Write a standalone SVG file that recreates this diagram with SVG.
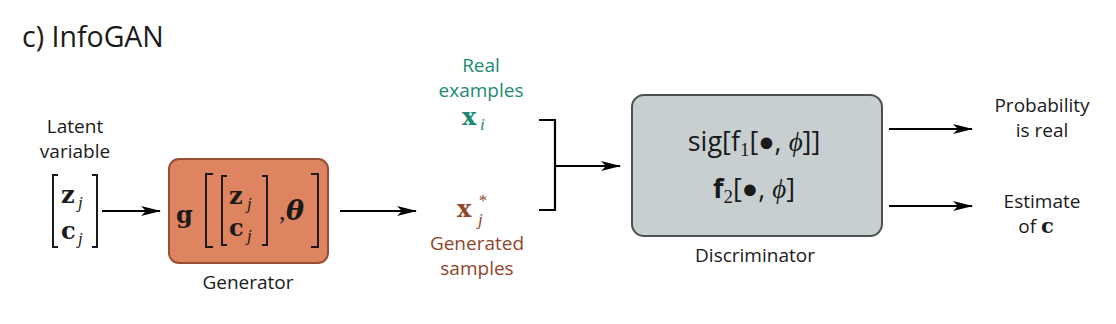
<svg xmlns="http://www.w3.org/2000/svg" width="1116" height="324" viewBox="0 0 1116 324">
<defs>
<style>
.lbl{font-family:"Open Sans","Liberation Sans",sans-serif;font-size:19px;fill:#1a1a1a;text-anchor:middle}
.mb{font-family:"DejaVu Serif","Liberation Serif",serif;font-weight:bold;font-size:24px;fill:#1a1a1a}
.mi{font-family:"Liberation Serif","DejaVu Serif",serif;font-style:italic;font-size:17px;fill:#1a1a1a}
.sf{font-family:"Open Sans","Liberation Sans",sans-serif;font-size:27px;fill:#1a1a1a;text-anchor:middle}
.br{fill:none;stroke:#1a1a1a;stroke-width:2}
.conn{fill:none;stroke:#000;stroke-width:2.2}
.teal{fill:#1B8A72}
.brown{fill:#8E452A}
</style>
<marker id="ah" viewBox="0 0 20 10" refX="19" refY="5" markerWidth="20" markerHeight="10" markerUnits="userSpaceOnUse" orient="auto">
<path d="M0,0 L20,5 L0,10 L5,5 Z" fill="#000"/>
</marker>
</defs>
<rect width="1116" height="324" fill="#fff"/>

<text x="22" y="47" font-family="Open Sans, Liberation Sans, sans-serif" font-size="28.5" fill="#1a1a1a">c) InfoGAN</text>

<g id="latent">
<text class="lbl" x="75" y="133">Latent</text>
<text class="lbl" x="75" y="158">variable</text>
<path class="br" d="M58,175 H53 V247 H58"/>
<path class="br" d="M92,175 H97 V247 H92"/>
<text class="mb" x="61" y="203">z</text><text class="mi" x="78" y="208">j</text>
<text class="mb" x="61" y="239">c</text><text class="mi" x="78" y="244">j</text>
</g>

<g id="generator">
<rect x="169" y="159" width="159" height="104" rx="10" fill="#DE8460" stroke="#9A4E33" stroke-width="2"/>
<text class="mb" x="176" y="223" font-size="28">g</text>
<path class="br" d="M213,174 H206 V247 H213"/>
<path class="br" d="M227,176 H222 V245 H227"/>
<text class="mb" x="229" y="204">z</text><text class="mi" x="247" y="209">j</text>
<text class="mb" x="229" y="236">c</text><text class="mi" x="247" y="241">j</text>
<path class="br" d="M262,176 H267 V245 H262"/>
<text x="279" y="220" font-family="Liberation Serif, DejaVu Serif, serif" font-size="26" fill="#1a1a1a">,</text>
<text x="286" y="220" font-family="DejaVu Serif, Liberation Serif, serif" font-style="italic" font-weight="bold" font-size="27" fill="#1a1a1a">θ</text>
<path class="br" d="M311,174 H318 V247 H311"/>
<text class="lbl" x="248" y="289">Generator</text>
</g>

<g id="real">
<text class="lbl teal" x="481" y="72">Real</text>
<text class="lbl teal" x="481" y="97">examples</text>
<text class="mb teal" x="462" y="125">x</text><text class="mi teal" x="480" y="130">i</text>
</g>

<g id="generated">
<text class="mb brown" x="457" y="217">x</text><text class="mi brown" x="478" y="206" font-size="21">*</text><text class="mi brown" x="478" y="225">j</text>
<text class="lbl brown" x="477" y="250">Generated</text>
<text class="lbl brown" x="477" y="275">samples</text>
</g>

<g id="discriminator">
<rect x="632" y="95" width="250" height="141" rx="12" fill="#C8CFD1" stroke="#4A5254" stroke-width="2"/>
<text class="sf" x="754" y="151">sig[f<tspan font-family="Liberation Serif, serif" font-size="19" dy="5">1</tspan><tspan dy="-5">[●, </tspan><tspan font-family="Liberation Serif, serif" font-style="italic">ϕ</tspan>]]</text>
<text class="sf" x="754" y="198"><tspan font-weight="bold">f</tspan><tspan font-family="Liberation Serif, serif" font-size="19" dy="5">2</tspan><tspan dy="-5">[●, </tspan><tspan font-family="Liberation Serif, serif" font-style="italic">ϕ</tspan>]</text>
<text class="lbl" x="755" y="262">Discriminator</text>
</g>

<g id="out1">
<text class="lbl" x="1042" y="112">Probability</text>
<text class="lbl" x="1042" y="137">is real</text>
</g>
<g id="out2">
<text class="lbl" x="1042" y="208">Estimate</text>
<text class="lbl" x="1036" y="233">of <tspan font-family="DejaVu Serif, Liberation Serif, serif" font-weight="bold" font-size="21">c</tspan></text>
</g>

<g id="connectors">
<line class="conn" x1="102" y1="211" x2="160" y2="211" marker-end="url(#ah)"/>
<line class="conn" x1="340" y1="211" x2="416" y2="211" marker-end="url(#ah)"/>
<path class="conn" d="M539,120 H555 V210 H539"/>
<line class="conn" x1="555" y1="166" x2="620" y2="166" marker-end="url(#ah)"/>
<line class="conn" x1="889" y1="129" x2="972" y2="129" marker-end="url(#ah)"/>
<line class="conn" x1="889" y1="206" x2="972" y2="206" marker-end="url(#ah)"/>
</g>
</svg>
